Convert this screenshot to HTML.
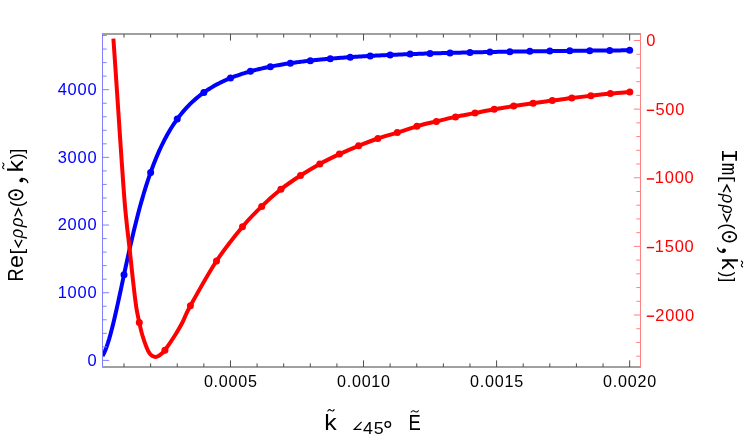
<!DOCTYPE html>
<html><head><meta charset="utf-8"><title>plot</title>
<style>html,body{margin:0;padding:0;background:#fff;}svg{display:block;will-change:transform;}text{font-family:"Liberation Sans",sans-serif;}.m{font-family:"Liberation Mono",monospace;}</style>
</head><body>
<svg width="747" height="441" viewBox="0 0 747 441">
<rect width="747" height="441" fill="#fff"/>
<clipPath id="cp"><rect x="102.5" y="34.0" width="538.0" height="333.0"/></clipPath>
<g clip-path="url(#cp)">
<path d="M102.50,356.12L103.82,353.67L105.14,350.71L106.46,347.27L107.78,343.39L109.11,339.10L110.43,334.44L111.75,329.46L113.07,324.19L114.39,318.68L115.71,312.96L117.03,307.08L118.35,301.08L119.68,294.98L121.00,288.82L122.32,282.63L123.64,276.44L124.96,270.28L126.28,264.16L127.60,258.10L128.92,252.13L130.25,246.25L131.57,240.48L132.89,234.83L134.21,229.31L135.53,223.92L136.85,218.66L138.17,213.55L139.49,208.58L140.81,203.76L142.14,199.09L143.46,194.55L144.78,190.17L146.10,185.92L147.42,181.82L148.74,177.85L150.06,174.01L151.38,170.31L152.71,166.74L154.03,163.29L155.35,159.96L156.67,156.74L157.99,153.64L159.31,150.65L160.63,147.77L161.95,144.99L163.28,142.30L164.60,139.71L165.92,137.22L167.24,134.81L168.56,132.48L169.88,130.24L171.20,128.07L172.52,125.98L173.84,123.97L175.17,122.02L176.49,120.14L177.81,118.32L179.13,116.57L180.45,114.87L181.77,113.23L183.09,111.65L184.41,110.11L185.74,108.63L187.06,107.20L188.38,105.81L189.70,104.47L191.02,103.17L192.34,101.92L193.66,100.70L194.98,99.52L196.31,98.38L197.63,97.27L198.95,96.20L200.27,95.16L201.59,94.15L202.91,93.18L204.23,92.23L205.55,91.31L206.88,90.41L208.20,89.55L209.52,88.70L210.84,87.89L212.16,87.09L213.48,86.32L214.80,85.57L216.12,84.84L217.44,84.13L218.77,83.44L220.09,82.77L221.41,82.12L222.73,81.49L224.05,80.87L225.37,80.27L226.69,79.68L228.01,79.11L229.34,78.56L230.66,78.02L231.98,77.49L233.30,76.98L234.62,76.48L235.94,75.99L237.26,75.51L238.58,75.05L239.91,74.59L241.23,74.15L242.55,73.72L243.87,73.30L245.19,72.89L246.51,72.49L247.83,72.10L249.15,71.72L250.47,71.34L251.80,70.98L253.12,70.62L254.44,70.27L255.76,69.93L257.08,69.60L258.40,69.28L259.72,68.96L261.04,68.65L262.37,68.34L263.69,68.04L265.01,67.75L266.33,67.47L267.65,67.19L268.97,66.92L270.29,66.65L271.61,66.39L272.94,66.13L274.26,65.88L275.58,65.63L276.90,65.39L278.22,65.16L279.54,64.93L280.86,64.70L282.18,64.48L283.50,64.26L284.83,64.05L286.15,63.84L287.47,63.63L288.79,63.43L290.11,63.23L291.43,63.04L292.75,62.85L294.07,62.66L295.40,62.48L296.72,62.30L298.04,62.12L299.36,61.95L300.68,61.78L302.00,61.62L303.32,61.45L304.64,61.29L305.97,61.13L307.29,60.98L308.61,60.83L309.93,60.68L311.25,60.53L312.57,60.39L313.89,60.24L315.21,60.10L316.53,59.97L317.86,59.83L319.18,59.70L320.50,59.57L321.82,59.44L323.14,59.32L324.46,59.19L325.78,59.07L327.10,58.95L328.43,58.83L329.75,58.72L331.07,58.60L332.39,58.49L333.71,58.38L335.03,58.27L336.35,58.16L337.67,58.06L339.00,57.96L340.32,57.85L341.64,57.75L342.96,57.65L344.28,57.56L345.60,57.46L346.92,57.37L348.24,57.27L349.56,57.18L350.89,57.09L352.21,57.00L353.53,56.92L354.85,56.83L356.17,56.75L357.49,56.66L358.81,56.58L360.13,56.50L361.46,56.42L362.78,56.34L364.10,56.26L365.42,56.18L366.74,56.11L368.06,56.03L369.38,55.96L370.70,55.89L372.03,55.82L373.35,55.75L374.67,55.68L375.99,55.61L377.31,55.54L378.63,55.47L379.95,55.41L381.27,55.34L382.60,55.28L383.92,55.22L385.24,55.15L386.56,55.09L387.88,55.03L389.20,54.97L390.52,54.91L391.84,54.85L393.16,54.80L394.49,54.74L395.81,54.68L397.13,54.63L398.45,54.57L399.77,54.52L401.09,54.47L402.41,54.41L403.73,54.36L405.06,54.31L406.38,54.26L407.70,54.21L409.02,54.16L410.34,54.11L411.66,54.06L412.98,54.02L414.30,53.97L415.63,53.92L416.95,53.88L418.27,53.83L419.59,53.79L420.91,53.74L422.23,53.70L423.55,53.66L424.87,53.61L426.19,53.57L427.52,53.53L428.84,53.49L430.16,53.45L431.48,53.41L432.80,53.37L434.12,53.33L435.44,53.29L436.76,53.25L438.09,53.21L439.41,53.17L440.73,53.14L442.05,53.10L443.37,53.06L444.69,53.03L446.01,52.99L447.33,52.96L448.66,52.92L449.98,52.89L451.30,52.85L452.62,52.82L453.94,52.79L455.26,52.75L456.58,52.72L457.90,52.69L459.22,52.66L460.55,52.63L461.87,52.60L463.19,52.56L464.51,52.53L465.83,52.50L467.15,52.47L468.47,52.44L469.79,52.42L471.12,52.39L472.44,52.36L473.76,52.33L475.08,52.30L476.40,52.27L477.72,52.25L479.04,52.22L480.36,52.19L481.69,52.17L483.01,52.14L484.33,52.11L485.65,52.09L486.97,52.06L488.29,52.04L489.61,52.01L490.93,51.99L492.25,51.96L493.58,51.94L494.90,51.91L496.22,51.89L497.54,51.87L498.86,51.84L500.18,51.82L501.50,51.80L502.82,51.77L504.15,51.75L505.47,51.73L506.79,51.71L508.11,51.68L509.43,51.66L510.75,51.64L512.07,51.62L513.39,51.60L514.72,51.58L516.04,51.56L517.36,51.54L518.68,51.52L520.00,51.50L521.32,51.48L522.64,51.46L523.96,51.44L525.28,51.42L526.61,51.40L527.93,51.38L529.25,51.36L530.57,51.34L531.89,51.32L533.21,51.31L534.53,51.29L535.85,51.27L537.18,51.25L538.50,51.23L539.82,51.22L541.14,51.20L542.46,51.18L543.78,51.16L545.10,51.15L546.42,51.13L547.75,51.11L549.07,51.10L550.39,51.08L551.71,51.06L553.03,51.05L554.35,51.03L555.67,51.02L556.99,51.00L558.32,50.99L559.64,50.97L560.96,50.95L562.28,50.94L563.60,50.92L564.92,50.91L566.24,50.89L567.56,50.88L568.88,50.87L570.21,50.85L571.53,50.84L572.85,50.82L574.17,50.81L575.49,50.79L576.81,50.78L578.13,50.77L579.45,50.75L580.78,50.74L582.10,50.73L583.42,50.71L584.74,50.70L586.06,50.69L587.38,50.67L588.70,50.66L590.02,50.65L591.35,50.64L592.67,50.62L593.99,50.61L595.31,50.60L596.63,50.59L597.95,50.57L599.27,50.56L600.59,50.55L601.91,50.54L603.24,50.53L604.56,50.51L605.88,50.50L607.20,50.49L608.52,50.48L609.84,50.47L611.16,50.46L612.48,50.45L613.81,50.43L615.13,50.42L616.45,50.41L617.77,50.40L619.09,50.39L620.41,50.38L621.73,50.37L623.05,50.36L624.38,50.35L625.70,50.34L627.02,50.33L628.34,50.32L629.66,50.31" fill="none" stroke="#0000ff" stroke-width="4.0" stroke-linejoin="round"/>
<circle cx="124.01" cy="274.69" r="3.5" fill="#0000ff"/>
<circle cx="150.63" cy="172.42" r="3.5" fill="#0000ff"/>
<circle cx="177.24" cy="119.10" r="3.5" fill="#0000ff"/>
<circle cx="203.85" cy="92.50" r="3.5" fill="#0000ff"/>
<circle cx="230.47" cy="78.09" r="3.5" fill="#0000ff"/>
<circle cx="250.42" cy="71.36" r="3.5" fill="#0000ff"/>
<circle cx="270.38" cy="66.63" r="3.5" fill="#0000ff"/>
<circle cx="290.34" cy="63.20" r="3.5" fill="#0000ff"/>
<circle cx="310.30" cy="60.63" r="3.5" fill="#0000ff"/>
<circle cx="330.26" cy="58.67" r="3.5" fill="#0000ff"/>
<circle cx="350.22" cy="57.14" r="3.5" fill="#0000ff"/>
<circle cx="370.18" cy="55.92" r="3.5" fill="#0000ff"/>
<circle cx="390.14" cy="54.93" r="3.5" fill="#0000ff"/>
<circle cx="410.10" cy="54.12" r="3.5" fill="#0000ff"/>
<circle cx="430.06" cy="53.45" r="3.5" fill="#0000ff"/>
<circle cx="450.02" cy="52.89" r="3.5" fill="#0000ff"/>
<circle cx="469.98" cy="52.41" r="3.5" fill="#0000ff"/>
<circle cx="489.94" cy="52.00" r="3.5" fill="#0000ff"/>
<circle cx="509.90" cy="51.66" r="3.5" fill="#0000ff"/>
<circle cx="529.86" cy="51.35" r="3.5" fill="#0000ff"/>
<circle cx="549.82" cy="51.09" r="3.5" fill="#0000ff"/>
<circle cx="569.78" cy="50.86" r="3.5" fill="#0000ff"/>
<circle cx="589.74" cy="50.65" r="3.5" fill="#0000ff"/>
<circle cx="609.70" cy="50.47" r="3.5" fill="#0000ff"/>
<circle cx="629.66" cy="50.31" r="3.5" fill="#0000ff"/>
<path d="M113.40,38.60C113.95,46.67 115.62,70.93 116.70,87.00C117.78,103.07 118.85,119.50 119.90,135.00C120.95,150.50 122.17,168.33 123.00,180.00C123.83,191.67 124.20,197.00 124.90,205.00C125.60,213.00 126.35,220.12 127.20,228.00C128.05,235.88 129.05,243.72 130.00,252.30C130.95,260.88 131.87,270.42 132.90,279.50C133.93,288.58 135.13,299.65 136.20,306.80C137.27,313.95 138.28,317.70 139.30,322.40C140.32,327.10 141.08,330.83 142.30,335.00C143.52,339.17 145.38,344.33 146.60,347.40C147.82,350.47 148.62,351.95 149.60,353.40C150.58,354.85 151.50,355.52 152.50,356.10C153.50,356.68 154.60,356.92 155.60,356.90C156.60,356.88 157.53,356.52 158.50,356.00C159.47,355.48 160.33,354.77 161.40,353.80C162.47,352.83 162.60,353.33 164.90,350.20C167.20,347.07 172.28,339.62 175.20,335.00C178.12,330.38 179.87,327.37 182.40,322.50C184.93,317.63 184.72,316.05 190.40,305.80C196.08,295.55 207.82,274.18 216.50,261.00C225.18,247.82 234.97,235.80 242.50,226.70C250.03,217.60 255.30,212.63 261.70,206.40C268.10,200.17 274.43,194.45 280.90,189.30C287.37,184.15 294.02,179.73 300.50,175.50C306.98,171.27 313.32,167.47 319.80,163.90C326.28,160.33 332.93,157.12 339.40,154.10C345.87,151.08 352.18,148.40 358.60,145.80C365.02,143.20 371.45,140.70 377.90,138.50C384.35,136.30 390.80,134.63 397.30,132.60C403.80,130.57 410.38,128.17 416.90,126.30C423.42,124.43 429.97,122.97 436.40,121.40C442.83,119.83 449.07,118.28 455.50,116.90C461.93,115.52 468.55,114.38 475.00,113.10C481.45,111.82 487.75,110.37 494.20,109.20C500.65,108.03 507.22,107.08 513.70,106.10C520.18,105.12 526.67,104.23 533.10,103.30C539.53,102.37 545.85,101.37 552.30,100.50C558.75,99.63 565.37,98.90 571.80,98.10C578.23,97.30 584.47,96.45 590.90,95.70C597.33,94.95 603.92,94.23 610.40,93.60C616.88,92.97 626.57,92.18 629.80,91.90" fill="none" stroke="#ff0000" stroke-width="4.0" stroke-linejoin="round"/>
<circle cx="139.30" cy="322.40" r="3.5" fill="#ff0000"/>
<circle cx="164.90" cy="350.20" r="3.5" fill="#ff0000"/>
<circle cx="190.40" cy="305.80" r="3.5" fill="#ff0000"/>
<circle cx="216.50" cy="261.00" r="3.5" fill="#ff0000"/>
<circle cx="242.50" cy="226.70" r="3.5" fill="#ff0000"/>
<circle cx="261.70" cy="206.40" r="3.5" fill="#ff0000"/>
<circle cx="280.90" cy="189.30" r="3.5" fill="#ff0000"/>
<circle cx="300.50" cy="175.50" r="3.5" fill="#ff0000"/>
<circle cx="319.80" cy="163.90" r="3.5" fill="#ff0000"/>
<circle cx="339.40" cy="154.10" r="3.5" fill="#ff0000"/>
<circle cx="358.60" cy="145.80" r="3.5" fill="#ff0000"/>
<circle cx="377.90" cy="138.50" r="3.5" fill="#ff0000"/>
<circle cx="397.30" cy="132.60" r="3.5" fill="#ff0000"/>
<circle cx="416.90" cy="126.30" r="3.5" fill="#ff0000"/>
<circle cx="436.40" cy="121.40" r="3.5" fill="#ff0000"/>
<circle cx="455.50" cy="116.90" r="3.5" fill="#ff0000"/>
<circle cx="475.00" cy="113.10" r="3.5" fill="#ff0000"/>
<circle cx="494.20" cy="109.20" r="3.5" fill="#ff0000"/>
<circle cx="513.70" cy="106.10" r="3.5" fill="#ff0000"/>
<circle cx="533.10" cy="103.30" r="3.5" fill="#ff0000"/>
<circle cx="552.30" cy="100.50" r="3.5" fill="#ff0000"/>
<circle cx="571.80" cy="98.10" r="3.5" fill="#ff0000"/>
<circle cx="590.90" cy="95.70" r="3.5" fill="#ff0000"/>
<circle cx="610.40" cy="93.60" r="3.5" fill="#ff0000"/>
<circle cx="629.80" cy="91.90" r="3.5" fill="#ff0000"/>
</g>
<line x1="102.0" y1="34.0" x2="641.0" y2="34.0" stroke="#808080" stroke-width="1.33"/>
<line x1="102.0" y1="367.0" x2="641.0" y2="367.0" stroke="#808080" stroke-width="1.33"/>
<line x1="102.5" y1="34.0" x2="102.5" y2="367.0" stroke="#8080ff" stroke-width="1"/>
<line x1="640.5" y1="34.0" x2="640.5" y2="367.0" stroke="#ff8080" stroke-width="1"/>
<path d="M124.01,367.0v-3.6M124.01,34.0v3.6M150.63,367.0v-3.6M150.63,34.0v3.6M177.24,367.0v-3.6M177.24,34.0v3.6M203.85,367.0v-3.6M203.85,34.0v3.6M230.47,367.0v-6.6M230.47,34.0v6.6M257.08,367.0v-3.6M257.08,34.0v3.6M283.69,367.0v-3.6M283.69,34.0v3.6M310.30,367.0v-3.6M310.30,34.0v3.6M336.92,367.0v-3.6M336.92,34.0v3.6M363.53,367.0v-6.6M363.53,34.0v6.6M390.14,367.0v-3.6M390.14,34.0v3.6M416.76,367.0v-3.6M416.76,34.0v3.6M443.37,367.0v-3.6M443.37,34.0v3.6M469.98,367.0v-3.6M469.98,34.0v3.6M496.60,367.0v-6.6M496.60,34.0v6.6M523.21,367.0v-3.6M523.21,34.0v3.6M549.82,367.0v-3.6M549.82,34.0v3.6M576.43,367.0v-3.6M576.43,34.0v3.6M603.05,367.0v-3.6M603.05,34.0v3.6M629.66,367.0v-6.6M629.66,34.0v6.6" stroke="#4d4d4d" stroke-width="1.0" fill="none"/>
<path d="M102.5,360.40h6.6M102.5,346.86h4.2M102.5,333.33h4.2M102.5,319.79h4.2M102.5,306.26h4.2M102.5,292.72h6.6M102.5,279.18h4.2M102.5,265.65h4.2M102.5,252.11h4.2M102.5,238.58h4.2M102.5,225.04h6.6M102.5,211.50h4.2M102.5,197.97h4.2M102.5,184.43h4.2M102.5,170.90h4.2M102.5,157.36h6.6M102.5,143.82h4.2M102.5,130.29h4.2M102.5,116.75h4.2M102.5,103.22h4.2M102.5,89.68h6.6M102.5,76.14h4.2M102.5,62.61h4.2M102.5,49.07h4.2M102.5,35.54h4.2" stroke="#8080ff" stroke-width="1.0" fill="none"/>
<path d="M640.5,40.50h-6.6M640.5,54.23h-4.2M640.5,67.95h-4.2M640.5,81.68h-4.2M640.5,95.40h-4.2M640.5,109.12h-6.6M640.5,122.85h-4.2M640.5,136.57h-4.2M640.5,150.30h-4.2M640.5,164.03h-4.2M640.5,177.75h-6.6M640.5,191.48h-4.2M640.5,205.20h-4.2M640.5,218.93h-4.2M640.5,232.65h-4.2M640.5,246.38h-6.6M640.5,260.10h-4.2M640.5,273.83h-4.2M640.5,287.55h-4.2M640.5,301.28h-4.2M640.5,315.00h-6.6M640.5,328.73h-4.2M640.5,342.45h-4.2M640.5,356.18h-4.2" stroke="#ff8080" stroke-width="1.0" fill="none"/>
<text transform="translate(87.40,365.70) scale(1.0150,1)" font-size="16.2" fill="#0000ff" letter-spacing="0.76">0</text>
<text transform="translate(57.65,298.02) scale(1.0150,1)" font-size="16.2" fill="#0000ff" letter-spacing="0.76">1000</text>
<text transform="translate(57.65,230.34) scale(1.0150,1)" font-size="16.2" fill="#0000ff" letter-spacing="0.76">2000</text>
<text transform="translate(57.65,162.66) scale(1.0150,1)" font-size="16.2" fill="#0000ff" letter-spacing="0.76">3000</text>
<text transform="translate(57.65,94.98) scale(1.0150,1)" font-size="16.2" fill="#0000ff" letter-spacing="0.76">4000</text>
<text transform="translate(646.36,46.10) scale(1.0150,1)" font-size="16.2" fill="#ff0000" letter-spacing="0.76">0</text>
<rect x="646.8" y="109.60" width="7.3" height="1.45" fill="#ff0000"/>
<text transform="translate(655.44,114.72) scale(1.0150,1)" font-size="16.2" fill="#ff0000" letter-spacing="0.76">500</text>
<rect x="646.8" y="178.23" width="7.3" height="1.45" fill="#ff0000"/>
<text transform="translate(654.85,183.35) scale(1.0150,1)" font-size="16.2" fill="#ff0000" letter-spacing="0.76">1000</text>
<rect x="646.8" y="246.86" width="7.3" height="1.45" fill="#ff0000"/>
<text transform="translate(654.85,251.98) scale(1.0150,1)" font-size="16.2" fill="#ff0000" letter-spacing="0.76">1500</text>
<rect x="646.8" y="315.48" width="7.3" height="1.45" fill="#ff0000"/>
<text transform="translate(655.27,320.60) scale(1.0150,1)" font-size="16.2" fill="#ff0000" letter-spacing="0.76">2000</text>
<text transform="translate(203.88,386.80) scale(0.9974,1)" font-size="16.2" fill="#000" letter-spacing="0.76">0.0005</text>
<text transform="translate(336.95,386.80) scale(0.9965,1)" font-size="16.2" fill="#000" letter-spacing="0.76">0.0010</text>
<text transform="translate(470.01,386.80) scale(0.9974,1)" font-size="16.2" fill="#000" letter-spacing="0.76">0.0015</text>
<text transform="translate(603.08,386.80) scale(0.9965,1)" font-size="16.2" fill="#000" letter-spacing="0.76">0.0020</text>
<text transform="translate(324.32,429.70) scale(1.1309,1)" font-size="22" fill="#000">k</text>
<path d="M327.80,410.95C329.08,408.87 330.36,409.72 331.00,410.30S332.92,411.73 334.20,409.65" fill="none" stroke="#000" stroke-width="1.05" stroke-linecap="round"/>
<path d="M361.6,421.9L354.3,429.3H361.4" fill="none" stroke="#000" stroke-width="1.3" stroke-linejoin="miter"/>
<text transform="translate(362.99,434.20) scale(1.1000,1)" font-size="16.2" fill="#000" letter-spacing="0.76">45</text>
<circle cx="387.8" cy="424.5" r="2.8" fill="none" stroke="#000" stroke-width="1.3"/>
<text transform="translate(408.49,429.70) scale(0.8387,1)" font-size="22" fill="#000">E</text>
<path d="M411.20,412.05C412.64,409.97 414.08,410.81 414.80,411.40S416.96,412.83 418.40,410.75" fill="none" stroke="#000" stroke-width="1.05" stroke-linecap="round"/>
<g transform="translate(23.3,280.1) rotate(-90)">
<text transform="translate(-1.49,0.00) scale(0.8268,1)" font-size="22" fill="#000">R</text>
<text transform="translate(12.01,0.00) scale(1.0559,1)" font-size="22" fill="#000">e</text>
<text transform="translate(25.53,0.00) scale(1.1590,1)" font-size="17.8" fill="#000">[</text>
<path d="M40.2,-7.3L33.3,-3.65L40.2,0" fill="none" stroke="#000" stroke-width="1.4" transform="translate(0,-1.2)"/>
<text transform="translate(41.90,0.00) scale(0.9224,1)" font-size="17.8" fill="#000" font-style="italic">ρ</text>
<text transform="translate(52.91,0.00) scale(0.9522,1)" font-size="17.8" fill="#000" font-style="italic">ρ</text>
<path d="M63.9,-7.3L71.5,-3.65L63.9,0" fill="none" stroke="#000" stroke-width="1.4" transform="translate(0,-1.2)"/>
<text transform="translate(72.73,0.00) scale(1.0031,1)" font-size="18.8" fill="#000">(</text>
<ellipse cx="85.30" cy="-7.5" rx="4.70" ry="6.9" fill="none" stroke="#000" stroke-width="1.6"/>
<circle cx="85.30" cy="-7.5" r="1.5" fill="#000"/>
<path d="M101.60,-2.0C101.70,1.6 100.00,3.9 97.50,4.5" fill="none" stroke="#000" stroke-width="1.3" stroke-linecap="round"/>
<circle cx="99.70" cy="-2.0" r="1.95" fill="#000"/>
<text transform="translate(107.71,0.00) scale(1.1414,1)" font-size="22" fill="#000">k</text>
<path d="M111.20,-19.35C112.40,-21.43 113.60,-20.59 114.20,-20.00S116.00,-18.57 117.20,-20.65" fill="none" stroke="#000" stroke-width="1.05" stroke-linecap="round"/>
<text transform="translate(120.80,0.00) scale(0.9429,1)" font-size="18.8" fill="#000">)</text>
<text transform="translate(126.35,0.00) scale(1.0460,1)" font-size="17.8" fill="#000">]</text>
</g>
<g transform="translate(722.0,151.0) rotate(90)">
<text class="m" transform="translate(-2.36,0.00) scale(1.0387,1)" font-size="23" fill="#000">I</text>
<text class="m" transform="translate(11.68,0.00) scale(0.9497,1)" font-size="22.3" fill="#000">m</text>
<text transform="translate(25.09,0.00) scale(1.1873,1)" font-size="17.8" fill="#000">[</text>
<path d="M41.1,-7.3L34.1,-3.65L41.1,0" fill="none" stroke="#000" stroke-width="1.4" transform="translate(0,-1.2)"/>
<text transform="translate(42.70,0.00) scale(0.9224,1)" font-size="17.8" fill="#000" font-style="italic">ρ</text>
<text transform="translate(53.67,0.00) scale(0.8629,1)" font-size="17.8" fill="#000" font-style="italic">ρ</text>
<path d="M62.7,-7.3L70.3,-3.65L62.7,0" fill="none" stroke="#000" stroke-width="1.4" transform="translate(0,-1.2)"/>
<text transform="translate(72.13,0.00) scale(1.0031,1)" font-size="18.8" fill="#000">(</text>
<ellipse cx="85.75" cy="-7.5" rx="4.85" ry="6.9" fill="none" stroke="#000" stroke-width="1.6"/>
<circle cx="85.75" cy="-7.5" r="1.5" fill="#000"/>
<path d="M101.30,-2.0C101.40,1.6 99.70,3.9 97.00,4.5" fill="none" stroke="#000" stroke-width="1.3" stroke-linecap="round"/>
<circle cx="99.40" cy="-2.0" r="1.95" fill="#000"/>
<text transform="translate(106.79,0.00) scale(1.0890,1)" font-size="22" fill="#000">k</text>
<path d="M110.00,-19.35C111.20,-21.43 112.40,-20.59 113.00,-20.00S114.80,-18.57 116.00,-20.65" fill="none" stroke="#000" stroke-width="1.05" stroke-linecap="round"/>
<text transform="translate(120.80,0.00) scale(0.9028,1)" font-size="18.8" fill="#000">)</text>
<text transform="translate(126.47,0.00) scale(0.9612,1)" font-size="17.8" fill="#000">]</text>
</g>
</svg></body></html>
